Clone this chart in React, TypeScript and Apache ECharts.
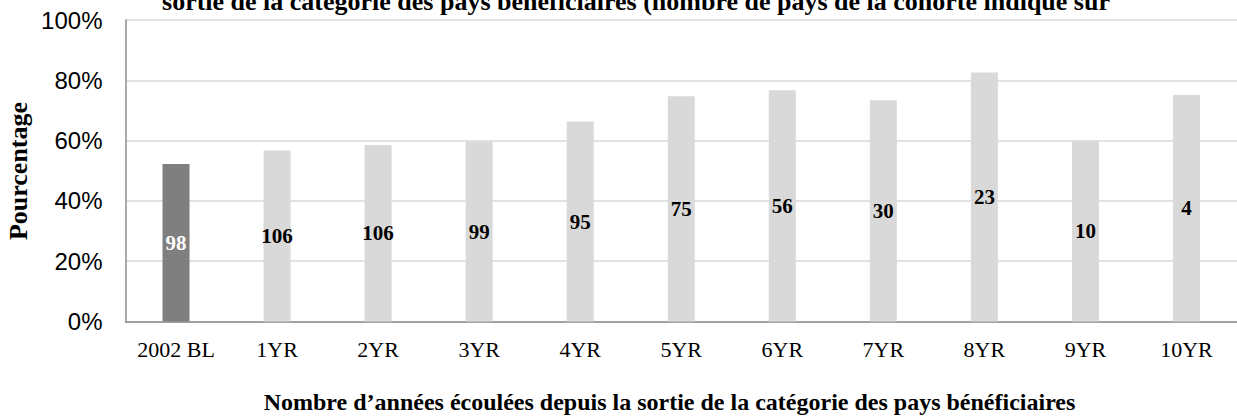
import React, { useEffect, useRef } from "react";
import * as echarts from "echarts";

const categories = ["2002 BL", "1YR", "2YR", "3YR", "4YR", "5YR", "6YR", "7YR", "8YR", "9YR", "10YR"];
const percentages = [52.2, 56.7, 58.5, 59.7, 66.3, 74.7, 76.7, 73.4, 82.6, 60.0, 75.1];
const cohortCounts = [98, 106, 106, 99, 95, 75, 56, 30, 23, 10, 4];
const yTicks = [0, 20, 40, 60, 80, 100];
const titleText = "sortie de la catégorie des pays bénéficiaires (nombre de pays de la cohorte indiqué sur";
const xName = "Nombre d\u2019années écoulées depuis la sortie de la catégorie des pays bénéficiaires";
const yName = "Pourcentage";

const SERIF = "'Liberation Serif', 'DejaVu Serif', serif";
const SANS = "'Liberation Sans', Arial, sans-serif";

export default function App() {
  const ref = useRef<HTMLDivElement>(null);
  useEffect(() => {
    document.body.style.margin = "0";
    if (!ref.current) return;
    const chart = echarts.init(ref.current, null, { renderer: "svg" });
    chart.setOption({
      animation: false,
      backgroundColor: "#ffffff",
      grid: { left: 125.5, right: -5, top: 20, bottom: 95.5 },
      xAxis: {
        type: "category",
        data: categories,
        axisLine: { show: true, lineStyle: { color: "#8c8c8c", width: 1.5 } },
        axisTick: { show: false },
        axisLabel: { fontFamily: SERIF, fontSize: 22, color: "#000", margin: 17 },
      },
      yAxis: {
        type: "value",
        min: yTicks[0],
        max: yTicks[yTicks.length - 1],
        interval: yTicks[1] - yTicks[0],
        axisLine: { show: true, lineStyle: { color: "#8c8c8c", width: 1.5 } },
        axisTick: { show: false },
        axisLabel: { formatter: "{value}%", fontFamily: SANS, fontSize: 24, color: "#000", margin: 23 },
        splitLine: { show: true, lineStyle: { color: "#d9d9d9", width: 1.5 } },
      },
      series: [
        {
          type: "bar",
          barWidth: 27,
          data: percentages.map((v, i) => ({
            value: v,
            itemStyle: { color: i === 0 ? "#7f7f7f" : "#d9d9d9" },
            label: { color: i === 0 ? "#ffffff" : "#000000" },
          })),
          label: {
            show: true,
            position: "inside",
            fontFamily: SERIF,
            fontWeight: "bold",
            fontSize: 21,
            formatter: (p: any) => String(cohortCounts[p.dataIndex]),
          },
        },
      ],
      graphic: [
        {
          type: "text",
          x: 636,
          y: 1,
          style: {
            text: titleText,
            fontFamily: SERIF,
            fontWeight: "bold",
            fontSize: 26,
            fill: "#000",
            align: "center",
            verticalAlign: "middle",
          },
        },
        {
          type: "text",
          x: 669.5,
          y: 402,
          style: {
            text: xName,
            fontFamily: SERIF,
            fontWeight: "bold",
            fontSize: 24,
            fill: "#000",
            align: "center",
            verticalAlign: "middle",
          },
        },
        {
          type: "text",
          x: 18,
          y: 171,
          rotation: Math.PI / 2,
          style: {
            text: yName,
            fontFamily: SERIF,
            fontWeight: "bold",
            fontSize: 26,
            fill: "#000",
            align: "center",
            verticalAlign: "middle",
          },
        },
      ],
    });
    return () => chart.dispose();
  }, []);
  return <div ref={ref} style={{ width: 1237, height: 417 }} />;
}
